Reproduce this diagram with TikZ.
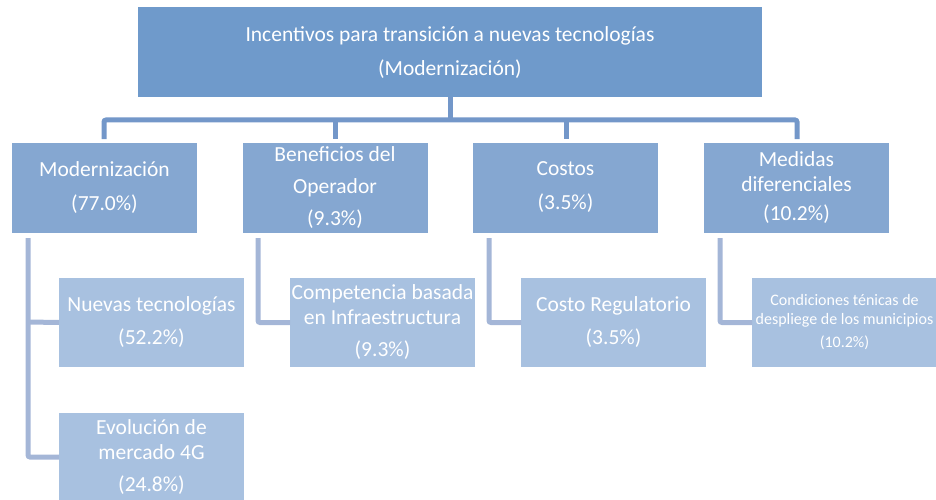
\documentclass[tikz,border=0pt]{standalone}
\usepackage{fontspec}
\setmainfont{Carlito}
\definecolor{topblue}{HTML}{6F9ACB}
\definecolor{midblue}{HTML}{85A7D1}
\definecolor{lowblue}{HTML}{A8C1E0}
\definecolor{topline}{HTML}{7397C9}
\definecolor{lowline}{HTML}{A4B6D7}
\begin{document}
\begin{tikzpicture}[x=1pt,y=-1pt,
  boxbase/.style={inner sep=0pt, outer sep=0pt, text=white, align=center, anchor=center},
  topbox/.style={boxbase, fill=topblue, minimum width=624pt, minimum height=90pt, font=\fontsize{21.5}{34}\selectfont},
  midbox/.style={boxbase, fill=midblue, minimum width=185pt, minimum height=90pt, font=\fontsize{21.5}{32}\selectfont},
  lowbox/.style={boxbase, fill=lowblue, minimum width=185pt, minimum height=89pt, font=\fontsize{21.5}{25}\selectfont},
  topconn/.style={draw=topline, line width=5pt, rounded corners=2pt},
  lowconn/.style={draw=lowline, line width=5pt, rounded corners=2pt}]
\useasboundingbox (0,0) rectangle (936,500);
% top
\node[topbox] (root) at (450,52.5) {Incentivos para transición a nuevas tecnologías\\(Modernización)};
% level 2
\node[midbox, font=\fontsize{21.5}{34}\selectfont] (m1) at (104.5,187.5) {Modernización\\(77.0\%)};
\node[midbox] (m2) at (335,187.5) {Beneficios del\\Operador\\(9.3\%)};
\node[midbox, font=\fontsize{21.5}{34}\selectfont] (m3) at (565.5,187.5) {Costos\\(3.5\%)};
\node[midbox, font=\fontsize{21.5}{25}\selectfont] (m4) at (796.5,187.5) {Medidas\\diferenciales\\[4pt](10.2\%)};
% level 3
\node[lowbox, font=\fontsize{21.5}{33}\selectfont] (l1) at (151.5,322.5) {Nuevas tecnologías\\(52.2\%)};
\node[lowbox, minimum height=88pt] (l2) at (151.5,457) {Evolución de\\mercado 4G\\[7pt](24.8\%)};
\node[lowbox] (l3) at (382.5,322.5) {Competencia basada\\en Infraestructura\\[7pt](9.3\%)};
\node[lowbox, font=\fontsize{21.5}{33}\selectfont] (l4) at (613.5,322.5) {Costo Regulatorio\\(3.5\%)};
\node[lowbox, font=\fontsize{16}{19}\selectfont] (l5) at (844.5,322.5) {Condiciones ténicas de\\despliege de los municipios\\[4pt](10.2\%)};
% top connectors
\coordinate (bar) at (450,120);
\draw[topconn] (root.south) -- (bar);
\draw[topconn] (104,139) -- (104,120) -- (797,120) -- (797,139);
\draw[topconn] (335,120) -- (335,139);
\draw[topconn] (566,120) -- (566,139);
% lower connectors
\draw[lowconn] (28,238) |- (l2.west);
\draw[lowconn] (28,322) -- (l1.west);
\draw[lowconn] (258,238) |- (l3.west);
\draw[lowconn] (489,238) |- (l4.west);
\draw[lowconn] (720,238) |- (l5.west);
\end{tikzpicture}
\end{document}
